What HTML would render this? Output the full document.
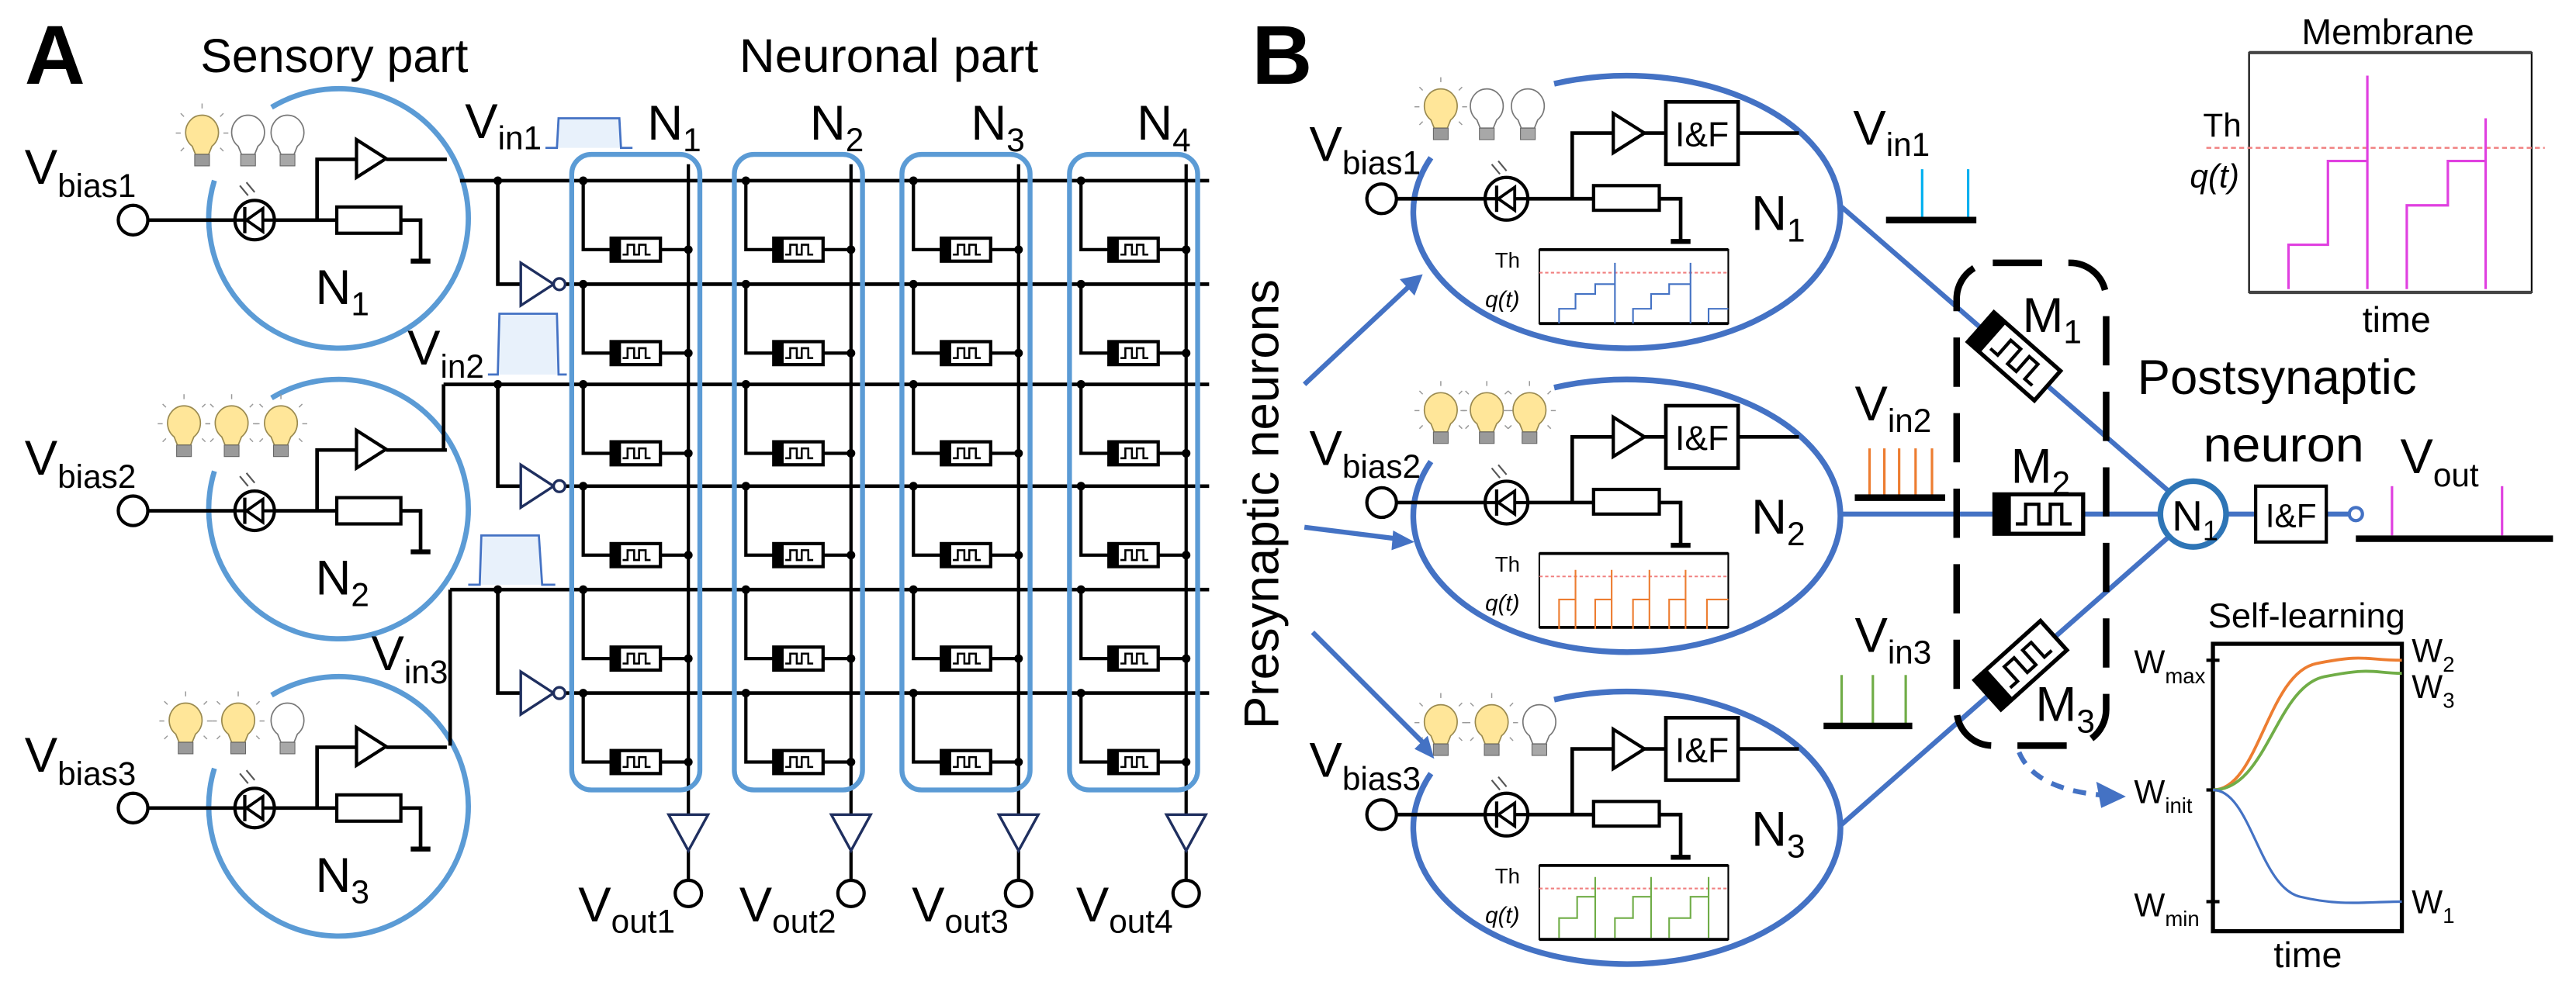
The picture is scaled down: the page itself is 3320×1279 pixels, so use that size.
<!DOCTYPE html>
<html><head><meta charset="utf-8"><style>
html,body{margin:0;padding:0;background:#fff;}
svg{display:block;}
text{font-family:"Liberation Sans Narrow","Liberation Sans",sans-serif;fill:#000;}
</style></head><body>
<svg width="3320" height="1279" viewBox="0 0 1568 604" xmlns="http://www.w3.org/2000/svg">
<defs>
 <g id="bulbY">
  <path d="M-6,6 A10,10.5 0 1 1 6,6 L4,11 L-4,11 Z" fill="#ffe699" stroke="#9a8a50" stroke-width="0.8"/>
  <rect x="-4.5" y="11" width="9" height="7" fill="#9a9a9a" stroke="#666" stroke-width="0.5"/>
  <g stroke="#999" stroke-width="0.7"><line x1="0" y1="-17" x2="0" y2="-20"/><line x1="-11" y1="-12" x2="-13" y2="-14"/><line x1="11" y1="-12" x2="13" y2="-14"/><line x1="-13" y1="-2" x2="-16" y2="-2"/><line x1="13" y1="-2" x2="16" y2="-2"/><line x1="-11" y1="7" x2="-13" y2="9"/><line x1="11" y1="7" x2="13" y2="9"/></g>
 </g>
 <g id="bulbW">
  <path d="M-6,6 A10,10.5 0 1 1 6,6 L4,11 L-4,11 Z" fill="#fff" stroke="#777" stroke-width="0.8"/>
  <rect x="-4.5" y="11" width="9" height="7" fill="#a8a8a8" stroke="#666" stroke-width="0.5"/>
 </g>
 <g id="memA">
  <rect x="-15" y="-7" width="30" height="14" fill="#fff" stroke="#000" stroke-width="2"/>
  <rect x="-15" y="-7" width="6" height="14" fill="#000"/>
  <path d="M-8,3 H-5 V-3 H-1 V3 H2 V-3 H6 V3 H9" fill="none" stroke="#000" stroke-width="1.2"/>
 </g>
 <g id="memB">
  <rect x="-27" y="-12" width="54" height="24" fill="#fff" stroke="#000" stroke-width="2.5"/>
  <rect x="-27" y="-12" width="10" height="24" fill="#000"/>
  <path d="M-14,6 H-8 V-6 H0 V6 H7 V-6 H14 V6 H20" fill="none" stroke="#000" stroke-width="2"/>
 </g>
 <g id="colA">
  <g stroke="#000" stroke-width="2" fill="none">
   <line x1="64" y1="100" x2="64" y2="496"/>
   <path d="M0,110 V152 H64"/><path d="M0,173 V215 H64"/><path d="M0,234 V276 H64"/>
   <path d="M0,296 V338 H64"/><path d="M0,359 V401 H64"/><path d="M0,422 V464 H64"/>
   <line x1="64" y1="518" x2="64" y2="536"/>
  </g>
  <use href="#memA" x="32" y="152"/><use href="#memA" x="32" y="215"/><use href="#memA" x="32" y="276"/>
  <use href="#memA" x="32" y="338"/><use href="#memA" x="32" y="401"/><use href="#memA" x="32" y="464"/>
  <g fill="#000">
   <circle cx="0" cy="110" r="2.6"/><circle cx="0" cy="173" r="2.6"/><circle cx="0" cy="234" r="2.6"/>
   <circle cx="0" cy="296" r="2.6"/><circle cx="0" cy="359" r="2.6"/><circle cx="0" cy="422" r="2.6"/>
   <circle cx="64" cy="152" r="2.6"/><circle cx="64" cy="215" r="2.6"/><circle cx="64" cy="276" r="2.6"/>
   <circle cx="64" cy="338" r="2.6"/><circle cx="64" cy="401" r="2.6"/><circle cx="64" cy="464" r="2.6"/>
  </g>
  <polygon points="52,496 76,496 64,518" fill="#fff" stroke="#1f2f5f" stroke-width="1.6"/>
  <circle cx="64" cy="544" r="8" fill="#fff" stroke="#000" stroke-width="2"/>
  <rect x="-7" y="94" width="78" height="387" rx="12" fill="none" stroke="#5b9bd5" stroke-width="3"/>
 </g>
 <g id="neuA">
  <path d="M-40.7,-67.7 A79,79 0 1 1 -75.5,-23.1" fill="none" stroke="#5b9bd5" stroke-width="3.2"/>
  <g stroke="#000" stroke-width="2.2" fill="none">
   <line x1="-116" y1="1" x2="-1" y2="1"/>
   <path d="M-13,1 V-36 H11"/>
   <path d="M29,-36 H66"/>
   <path d="M38,1 H50 V26"/>
   <line x1="44" y1="26" x2="56" y2="26" stroke-width="3"/>
  </g>
  <circle cx="-125" cy="1" r="9" fill="#fff" stroke="#000" stroke-width="2"/>
  <circle cx="-51" cy="1" r="12" fill="#fff" stroke="#000" stroke-width="2"/>
  <line x1="-63" y1="1" x2="-39" y2="1" stroke="#000" stroke-width="2"/>
  <polygon points="-56,1 -46,-6 -46,8" fill="#fff" stroke="#000" stroke-width="1.8"/>
  <line x1="-57" y1="-7" x2="-57" y2="9" stroke="#000" stroke-width="2"/>
  <path d="M-60,-20 L-55,-14 M-56,-22 L-51,-16" stroke="#555" stroke-width="1"/>
  <polygon points="11,-48 11,-25 29,-36.5" fill="#fff" stroke="#000" stroke-width="2"/>
  <rect x="-1" y="-7" width="39" height="16" fill="#fff" stroke="#000" stroke-width="2"/>
 </g>
 <g id="neuB">
  <path d="M-45,-77 A130,83 0 1 1 -120,-32" fill="none" stroke="#4472c4" stroke-width="3.5"/>
  <g stroke="#000" stroke-width="2.2" fill="none">
   <line x1="-141" y1="-7" x2="-21" y2="-7"/>
   <path d="M-34,-7 V-47 H-9"/>
   <path d="M10,-47 H23"/>
   <path d="M67,-47 H104"/>
   <path d="M19,-7 H32 V19"/>
   <line x1="26" y1="19" x2="38" y2="19" stroke-width="3"/>
  </g>
  <circle cx="-150" cy="-7" r="9" fill="#fff" stroke="#000" stroke-width="2"/>
  <circle cx="-74" cy="-7" r="13" fill="#fff" stroke="#000" stroke-width="2"/>
  <line x1="-87" y1="-7" x2="-61" y2="-7" stroke="#000" stroke-width="2"/>
  <polygon points="-79,-7 -69,-14 -69,0" fill="#fff" stroke="#000" stroke-width="1.8"/>
  <line x1="-80" y1="-15" x2="-80" y2="1" stroke="#000" stroke-width="2"/>
  <path d="M-83,-28 L-78,-22 M-79,-30 L-74,-24" stroke="#555" stroke-width="1"/>
  <polygon points="-9,-59 -9,-35 10,-47" fill="#fff" stroke="#000" stroke-width="2"/>
  <rect x="23" y="-66" width="44" height="38" fill="#fff" stroke="#000" stroke-width="2.2"/>
  <text x="45" y="-39" font-size="21" text-anchor="middle">I&amp;F</text>
  <rect x="-21" y="-15" width="40" height="15" fill="#fff" stroke="#000" stroke-width="2"/>
  <rect x="-54" y="24" width="115" height="45" fill="#fff" stroke="#000" stroke-width="1"/>
  <line x1="-54" y1="24" x2="61" y2="24" stroke="#000" stroke-width="1.8"/>
  <line x1="-54" y1="69" x2="61" y2="69" stroke="#000" stroke-width="1.8"/>
  <line x1="-54" y1="38" x2="61" y2="38" stroke="#f08080" stroke-width="1" stroke-dasharray="2,1.5"/>
  <text x="-81" y="35" font-size="13">Th</text>
  <text x="-87" y="59" font-size="14" font-style="italic">q(t)</text>
 </g>
</defs>

<!-- ============ PANEL A ============ -->
<text x="15" y="51" font-size="51" font-weight="bold" style="font-family:'Liberation Sans',sans-serif">A</text>
<text x="122" y="44" font-size="29" textLength="163" lengthAdjust="spacingAndGlyphs">Sensory part</text>
<text x="450" y="44" font-size="29" textLength="182" lengthAdjust="spacingAndGlyphs">Neuronal part</text>

<use href="#neuA" x="206" y="133"/>
<use href="#neuA" x="206" y="310"/>
<use href="#neuA" x="206" y="491"/>
<use href="#bulbY" x="123" y="83"/><use href="#bulbW" x="151" y="83"/><use href="#bulbW" x="175" y="83"/>
<use href="#bulbY" x="112" y="260"/><use href="#bulbY" x="141" y="260"/><use href="#bulbY" x="171" y="260"/>
<use href="#bulbY" x="113" y="441"/><use href="#bulbY" x="145" y="441"/><use href="#bulbW" x="175" y="441"/>
<text x="192" y="185" font-size="30">N<tspan font-size="20" dy="7">1</tspan></text>
<text x="192" y="362" font-size="30">N<tspan font-size="20" dy="7">2</tspan></text>
<text x="192" y="543" font-size="30">N<tspan font-size="20" dy="7">3</tspan></text>
<text x="15" y="112" font-size="30">V<tspan font-size="20" dy="8">bias1</tspan></text>
<text x="15" y="289" font-size="30">V<tspan font-size="20" dy="8">bias2</tspan></text>
<text x="15" y="470" font-size="30">V<tspan font-size="20" dy="8">bias3</tspan></text>

<g stroke="#000" stroke-width="2.2" fill="none">
 <line x1="280" y1="110" x2="736" y2="110"/>
 <line x1="344" y1="173" x2="736" y2="173"/>
 <line x1="270" y1="234" x2="736" y2="234"/>
 <line x1="344" y1="296" x2="736" y2="296"/>
 <line x1="274" y1="359" x2="736" y2="359"/>
 <line x1="344" y1="422" x2="736" y2="422"/>
 <path d="M303,110 V173 H317"/>
 <path d="M303,234 V296 H317"/>
 <path d="M303,359 V422 H317"/>
 <path d="M270,234 V274"/>
 <path d="M274,359 V454"/>
</g>
<g fill="#000"><circle cx="303" cy="110" r="2.6"/><circle cx="303" cy="234" r="2.6"/><circle cx="303" cy="359" r="2.6"/></g>
<g fill="#fff" stroke="#1f2f5f" stroke-width="1.6">
 <polygon points="317,160 317,186 337,173"/><circle cx="340.5" cy="173" r="3.5"/>
 <polygon points="317,283 317,309 337,296"/><circle cx="340.5" cy="296" r="3.5"/>
 <polygon points="317,409 317,435 337,422"/><circle cx="340.5" cy="422" r="3.5"/>
</g>
<path d="M332,90 H339 L340,72 H377 L378,90 H385" fill="#e8f1fb" stroke="#4472c4" stroke-width="1.3"/>
<path d="M297,228 H303 L304,191 H339 L340,228 H345" fill="#e8f1fb" stroke="#4472c4" stroke-width="1.3"/>
<path d="M285,356 H292 L293,326 H328 L330,356 H338" fill="#e8f1fb" stroke="#4472c4" stroke-width="1.3"/>
<text x="283" y="84" font-size="30">V<tspan font-size="20" dy="7">in1</tspan></text>
<text x="248" y="222" font-size="30">V<tspan font-size="20" dy="8">in2</tspan></text>
<text x="226" y="408" font-size="30">V<tspan font-size="20" dy="8">in3</tspan></text>

<use href="#colA" x="355"/>
<use href="#colA" x="454"/>
<use href="#colA" x="556"/>
<use href="#colA" x="658"/>
<text x="394" y="85" font-size="30">N<tspan font-size="20" dy="7">1</tspan></text>
<text x="493" y="85" font-size="30">N<tspan font-size="20" dy="7">2</tspan></text>
<text x="591" y="85" font-size="30">N<tspan font-size="20" dy="7">3</tspan></text>
<text x="692" y="85" font-size="30">N<tspan font-size="20" dy="7">4</tspan></text>
<text x="352" y="561" font-size="30">V<tspan font-size="20" dy="7">out1</tspan></text>
<text x="450" y="561" font-size="30">V<tspan font-size="20" dy="7">out2</tspan></text>
<text x="555" y="561" font-size="30">V<tspan font-size="20" dy="7">out3</tspan></text>
<text x="655" y="561" font-size="30">V<tspan font-size="20" dy="7">out4</tspan></text>

<!-- ============ PANEL B ============ -->
<text x="762" y="51" font-size="51" font-weight="bold" style="font-family:'Liberation Sans',sans-serif">B</text>
<text transform="translate(778,307) rotate(-90)" font-size="30" text-anchor="middle" textLength="274" lengthAdjust="spacingAndGlyphs">Presynaptic neurons</text>

<g stroke="#4472c4" stroke-width="3" fill="none">
 <line x1="1121" y1="126" x2="1320" y2="299"/>
 <line x1="1121" y1="313" x2="1314" y2="313"/>
 <line x1="1121" y1="502" x2="1320" y2="327"/>
 <line x1="1356" y1="313" x2="1373" y2="313"/>
 <line x1="1416" y1="313" x2="1430" y2="313"/>
</g>
<use href="#neuB" x="991" y="128"/>
<use href="#neuB" x="991" y="313"/>
<use href="#neuB" x="991" y="503"/>
<use href="#bulbY" x="877" y="67"/><use href="#bulbW" x="905" y="67"/><use href="#bulbW" x="930" y="67"/>
<use href="#bulbY" x="877" y="252"/><use href="#bulbY" x="905" y="252"/><use href="#bulbY" x="931" y="252"/>
<use href="#bulbY" x="877" y="442"/><use href="#bulbY" x="908" y="442"/><use href="#bulbW" x="937" y="442"/>
<text x="1066" y="140" font-size="30">N<tspan font-size="20" dy="7">1</tspan></text>
<text x="1066" y="325" font-size="30">N<tspan font-size="20" dy="7">2</tspan></text>
<text x="1066" y="515" font-size="30">N<tspan font-size="20" dy="7">3</tspan></text>
<text x="797" y="98" font-size="30">V<tspan font-size="20" dy="8">bias1</tspan></text>
<text x="797" y="283" font-size="30">V<tspan font-size="20" dy="8">bias2</tspan></text>
<text x="797" y="473" font-size="30">V<tspan font-size="20" dy="8">bias3</tspan></text>

<path d="M949,197 V188 H959 V179 H971 V173 H983 V160 V197 M994,197 V188 H1005 V179 H1016 V173 H1029 V160 V197 M1040,197 V188 H1052" fill="none" stroke="#4472c4" stroke-width="1"/>
<path d="M949,383 V365 H959 V347 V383 M971,383 V365 H981 V347 V383 M994,383 V365 H1004 V347 V383 M1016,383 V365 H1026 V347 V383 M1039,383 V365 H1052" fill="none" stroke="#ed7d31" stroke-width="1"/>
<path d="M949,571 V559 H960 V546 H971 V534 V571 M983,571 V559 H994 V546 H1005 V534 V571 M1016,571 V559 H1029 V546 H1040 V534 V571" fill="none" stroke="#70ad47" stroke-width="1"/>

<text x="1128" y="88" font-size="30">V<tspan font-size="20" dy="7">in1</tspan></text>
<g stroke="#00b0f0" stroke-width="1.5"><line x1="1170" y1="103" x2="1170" y2="133"/><line x1="1198" y1="103" x2="1198" y2="133"/></g>
<line x1="1148" y1="134" x2="1203" y2="134" stroke="#000" stroke-width="4"/>
<text x="1129" y="256" font-size="30">V<tspan font-size="20" dy="7">in2</tspan></text>
<g stroke="#ed7d31" stroke-width="1.5"><line x1="1138" y1="273" x2="1138" y2="302"/><line x1="1147" y1="273" x2="1147" y2="302"/><line x1="1156" y1="273" x2="1156" y2="302"/><line x1="1166" y1="273" x2="1166" y2="302"/><line x1="1176" y1="273" x2="1176" y2="302"/></g>
<line x1="1129" y1="303" x2="1184" y2="303" stroke="#000" stroke-width="4"/>
<text x="1129" y="397" font-size="30">V<tspan font-size="20" dy="7">in3</tspan></text>
<g stroke="#70ad47" stroke-width="1.5"><line x1="1121" y1="411" x2="1121" y2="441"/><line x1="1140" y1="411" x2="1140" y2="441"/><line x1="1160" y1="411" x2="1160" y2="441"/></g>
<line x1="1110" y1="442" x2="1164" y2="442" stroke="#000" stroke-width="4"/>

<rect x="1191" y="160" width="91" height="294" rx="22" fill="none" stroke="#000" stroke-width="4" stroke-dasharray="30,16"/>
<use href="#memB" transform="translate(1226,217) rotate(41.4)"/>
<use href="#memB" transform="translate(1241,313)"/>
<use href="#memB" transform="translate(1230,405) rotate(-42)"/>
<text x="1231" y="202" font-size="30">M<tspan font-size="20" dy="7">1</tspan></text>
<text x="1224" y="294" font-size="30">M<tspan font-size="20" dy="7">2</tspan></text>
<text x="1239" y="439" font-size="30">M<tspan font-size="20" dy="7">3</tspan></text>
<path d="M1229,458 Q1238,480 1278,484" fill="none" stroke="#4472c4" stroke-width="3" stroke-dasharray="8,6"/>
<polygon points="1294,485 1276,476 1279,492" fill="#4472c4"/>

<circle cx="1335" cy="313" r="20" fill="#fff" stroke="#2e75b6" stroke-width="3.5"/>
<text x="1322" y="323" font-size="26">N<tspan font-size="17" dy="6">1</tspan></text>
<rect x="1373" y="296" width="43" height="34" fill="#fff" stroke="#000" stroke-width="2"/>
<text x="1394.5" y="321" font-size="20" text-anchor="middle">I&amp;F</text>
<circle cx="1434" cy="313" r="4" fill="#fff" stroke="#4472c4" stroke-width="2"/>
<text x="1301" y="240" font-size="30" textLength="170" lengthAdjust="spacingAndGlyphs">Postsynaptic</text>
<text x="1341" y="281" font-size="30" textLength="98" lengthAdjust="spacingAndGlyphs">neuron</text>
<text x="1461" y="288" font-size="30">V<tspan font-size="20" dy="8">out</tspan></text>
<g stroke="#e040e0" stroke-width="1.5"><line x1="1456" y1="296" x2="1456" y2="326"/><line x1="1523" y1="296" x2="1523" y2="326"/></g>
<line x1="1434" y1="328" x2="1554" y2="328" stroke="#000" stroke-width="4"/>

<text x="1401" y="27" font-size="22" textLength="105" lengthAdjust="spacingAndGlyphs">Membrane</text>
<rect x="1369" y="32" width="172" height="146" fill="none" stroke="#000" stroke-width="1"/>
<line x1="1369" y1="32" x2="1541" y2="32" stroke="#444" stroke-width="2"/>
<line x1="1369" y1="178" x2="1541" y2="178" stroke="#444" stroke-width="2"/>
<line x1="1343" y1="90" x2="1549" y2="90" stroke="#f08080" stroke-width="1.2" stroke-dasharray="3,2"/>
<path d="M1393,176 V149 H1417 V98 H1441 V46 M1441,98 V176 M1465,176 V125 H1490 V98 H1513 V72 M1513,98 V176" fill="none" stroke="#e040e0" stroke-width="1.5"/>
<text x="1341" y="83" font-size="20">Th</text>
<text x="1333" y="114" font-size="20" font-style="italic">q(t)</text>
<text x="1438" y="202" font-size="22">time</text>

<text x="1344" y="382" font-size="21" textLength="120" lengthAdjust="spacingAndGlyphs">Self-learning</text>
<rect x="1347" y="392" width="115" height="175" fill="none" stroke="#000" stroke-width="2.5"/>
<g stroke="#000" stroke-width="2"><line x1="1343" y1="402" x2="1351" y2="402"/><line x1="1343" y1="481" x2="1351" y2="481"/><line x1="1343" y1="549" x2="1351" y2="549"/></g>
<path d="M1347,481 C1375,481 1380,410 1410,404 S1440,402 1462,402" fill="none" stroke="#ed7d31" stroke-width="1.8"/>
<path d="M1347,481 C1380,481 1385,418 1415,412 S1445,410 1462,410" fill="none" stroke="#70ad47" stroke-width="1.8"/>
<path d="M1347,481 C1370,481 1375,540 1400,546 S1440,549 1462,549" fill="none" stroke="#4472c4" stroke-width="1.5"/>
<text x="1299" y="410" font-size="20">W<tspan font-size="13" dy="6">max</tspan></text>
<text x="1299" y="489" font-size="20">W<tspan font-size="13" dy="6">init</tspan></text>
<text x="1299" y="558" font-size="20">W<tspan font-size="13" dy="6">min</tspan></text>
<text x="1468" y="403" font-size="20">W<tspan font-size="13" dy="6">2</tspan></text>
<text x="1468" y="425" font-size="20">W<tspan font-size="13" dy="6">3</tspan></text>
<text x="1468" y="556" font-size="20">W<tspan font-size="13" dy="6">1</tspan></text>
<text x="1384" y="589" font-size="22">time</text>

<g stroke="#4472c4" stroke-width="3"><line x1="794" y1="234" x2="857" y2="175"/><line x1="794" y1="321" x2="850" y2="328"/><line x1="799" y1="385" x2="866" y2="452"/></g>
<polygon points="866,167 852,170 861,180" fill="#4472c4"/>
<polygon points="861,330 848,323 847,335" fill="#4472c4"/>
<polygon points="873,462 861,456 869,448" fill="#4472c4"/>
</svg>
</body></html>
